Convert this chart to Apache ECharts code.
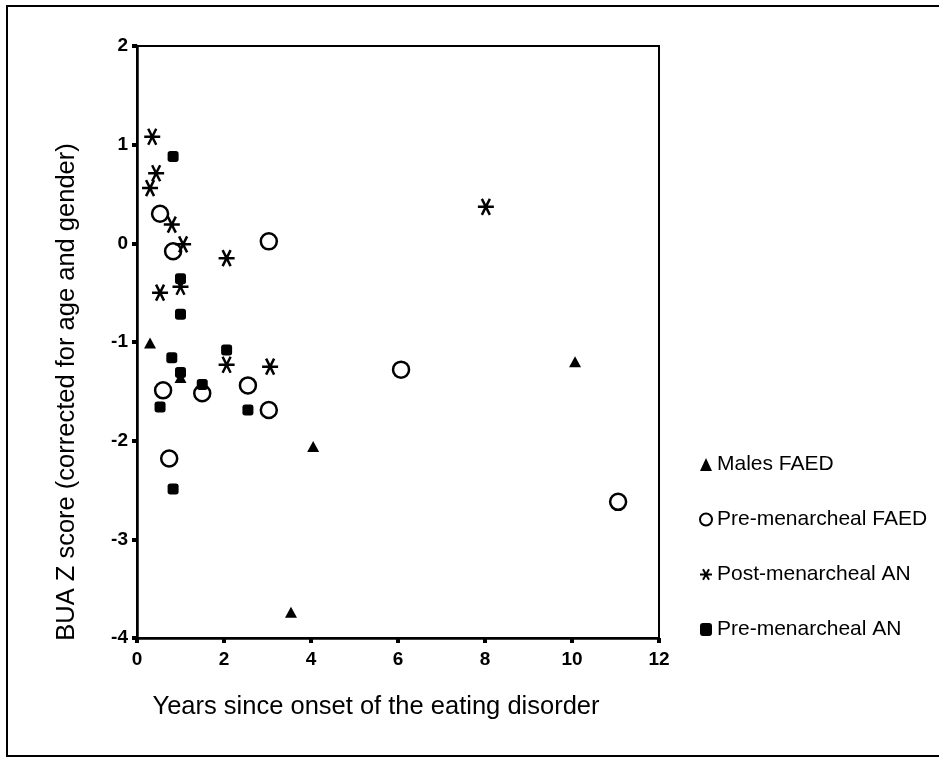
<!DOCTYPE html>
<html>
<head>
<meta charset="utf-8">
<script src="https://cdn.jsdelivr.net/npm/echarts@6/dist/echarts.min.js"></script>
<style>html,body{margin:0;padding:0;background:#fff;}#c{width:939px;height:758px;}</style>
</head>
<body>
<div id="c"></div>
<script>
const seriesNames = ['Males FAED', 'Pre-menarcheal FAED', 'Post-menarcheal AN', 'Pre-menarcheal AN'];
const malesFAED = [[0.3,-1.01],[1.0,-1.36],[4.05,-2.06],[3.54,-3.74],[10.07,-1.2]];
const preMenFAED = [[0.53,0.30],[0.83,-0.08],[3.03,0.02],[0.6,-1.49],[1.5,-1.52],[2.55,-1.44],[3.03,-1.69],[0.74,-2.18],[6.07,-1.28],[11.06,-2.62]];
const postMenAN = [[0.35,1.08],[0.44,0.71],[0.3,0.56],[0.8,0.19],[1.06,-0.01],[2.06,-0.15],[1.0,-0.44],[0.53,-0.5],[2.06,-1.23],[3.06,-1.25],[8.02,0.37]];
const preMenAN = [[0.83,0.88],[1.0,-0.36],[1.0,-0.72],[0.8,-1.16],[1.0,-1.31],[1.5,-1.43],[2.06,-1.08],[2.55,-1.69],[0.53,-1.66],[0.83,-2.49]];
const xTicks = {min: 0, max: 12, interval: 2};
const yTicks = {min: -4, max: 2, interval: 1};
const xTitle = 'Years since onset of the eating disorder';
const yTitle = 'BUA Z score (corrected for age and gender)';

const FONT = '"Liberation Sans", Arial, Helvetica, sans-serif';
const starPath = 'path://M0,5L10,5M2.5,0.67L7.5,9.33M7.5,0.67L2.5,9.33';

const chart = echarts.init(document.getElementById('c'), null, {renderer: 'canvas'});
chart.setOption({
  backgroundColor: '#fff',
  animation: false,
  graphic: [{
    type: 'rect', shape: {x: 7, y: 6, width: 940, height: 750},
    style: {fill: 'none', stroke: '#000', lineWidth: 2}, silent: true, z: 0
  }],
  grid: {left: 137, right: 280, top: 46, bottom: 120, show: true, borderColor: '#000', borderWidth: 2, backgroundColor: 'transparent'},
  legend: {
    orient: 'vertical', left: 694, top: 449,
    itemWidth: 12, itemHeight: 13, itemGap: 34,
    textStyle: {fontFamily: FONT, fontSize: 21, color: '#000', lineHeight: 19},
    data: seriesNames
  },
  xAxis: {
    type: 'value', min: xTicks.min, max: xTicks.max, interval: xTicks.interval,
    name: xTitle, nameLocation: 'middle', nameGap: 56,
    nameTextStyle: {fontFamily: FONT, fontSize: 25.5, color: '#000', padding: [0, 44, 0, 0]},
    axisLine: {show: true, onZero: false, lineStyle: {color: '#000', width: 2.5}},
    axisTick: {show: true, length: 5, lineStyle: {color: '#000', width: 4}},
    axisLabel: {fontFamily: FONT, fontSize: 19, fontWeight: 'bold', color: '#000', margin: 12},
    splitLine: {show: false}
  },
  yAxis: {
    type: 'value', min: yTicks.min, max: yTicks.max, interval: yTicks.interval,
    name: yTitle, nameLocation: 'middle', nameGap: 57, nameRotate: 90,
    nameTextStyle: {fontFamily: FONT, fontSize: 25.5, color: '#000', padding: [0, 100, 0, 0]},
    axisLine: {show: true, onZero: false, lineStyle: {color: '#000', width: 2.5}},
    axisTick: {show: true, length: 5, lineStyle: {color: '#000', width: 4}},
    axisLabel: {fontFamily: FONT, fontSize: 19, fontWeight: 'bold', color: '#000', margin: 9},
    splitLine: {show: false}
  },
  series: [
    {name: seriesNames[0], type: 'scatter', data: malesFAED, symbol: 'triangle', symbolSize: [12, 11],
     itemStyle: {color: '#000', opacity: 1}},
    {name: seriesNames[1], type: 'scatter', data: preMenFAED, symbol: 'circle', symbolSize: 16,
     itemStyle: {color: '#fff', borderColor: '#000', borderWidth: 2.5, opacity: 1}},
    {name: seriesNames[2], type: 'scatter', data: postMenAN, symbol: starPath, symbolSize: 16,
     itemStyle: {color: '#000', borderColor: '#000', borderWidth: 2.5, opacity: 1}},
    {name: seriesNames[3], type: 'scatter', data: preMenAN, symbol: 'roundRect', symbolSize: 11,
     itemStyle: {color: '#000', opacity: 1}}
  ]
});
</script>
</body>
</html>
